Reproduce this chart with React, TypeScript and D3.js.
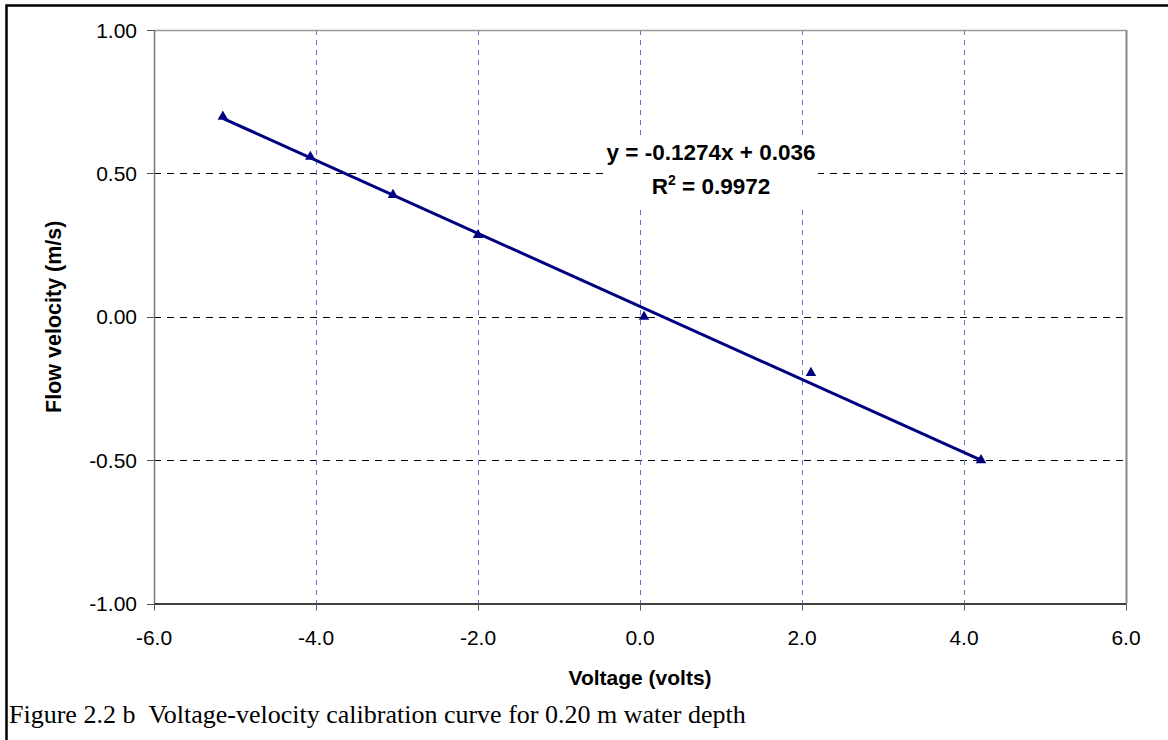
import React from "react";
import * as d3 from "d3";

const voltage = [-5.15, -4.07, -3.05, -2.0, 0.05, 2.11, 4.21];
const velocity = [0.698, 0.558, 0.425, 0.285, 0.0, -0.196, -0.5];
const xTicks = [-6, -4, -2, 0, 2, 4, 6];
const yTicks = [1, 0.5, 0, -0.5, -1];
const slope = -0.1274;
const intercept = 0.036;
const eqLine1 = "y = -0.1274x + 0.036";
const rSquared = "0.9972";
const xTitle = "Voltage (volts)";
const yTitle = "Flow velocity (m/s)";
const caption = "Figure 2.2 b \u00a0Voltage-velocity calibration curve for 0.20 m water depth";

const W = 1168;
const H = 740;
const left = 154;
const right = 1126;
const top = 30;
const bottom = 603.5;

const fmt2 = (t: number) => d3.format(".2f")(t).replace("\u2212", "-");
const fmt1 = (t: number) => d3.format(".1f")(t).replace("\u2212", "-");

export default function App() {
  const x = d3.scaleLinear().domain([-6, 6]).range([left, right]);
  const y = d3.scaleLinear().domain([-1, 1]).range([bottom, top]);
  const xMin = d3.min(voltage) as number;
  const xMax = d3.max(voltage) as number;
  const trend = d3
    .line<number>()
    .x((v) => x(v))
    .y((v) => y(slope * v + intercept))([xMin, xMax]);
  const tri = d3.symbol().type(d3.symbolTriangle).size(48)();
  const font = "Arial, 'Liberation Sans', sans-serif";

  return (
    <svg
      width={W}
      height={H}
      style={{ position: "absolute", left: 0, top: 0, background: "#fff" }}
    >
      <rect x={0} y={0} width={W} height={H} fill="#fff" />
      {/* outer frame */}
      <path d={`M6.5,${H + 5} L6.5,5.5 L${W + 5},5.5`} fill="none" stroke="#000" strokeWidth={2.5} />

      {/* horizontal gridlines */}
      {yTicks
        .filter((t) => t !== 1 && t !== -1)
        .map((t) => (
          <line
            key={"hg" + t}
            x1={left}
            x2={right}
            y1={Math.round(y(t)) + 0.5}
            y2={Math.round(y(t)) + 0.5}
            stroke="#000"
            strokeWidth={1}
            strokeDasharray="7,6"
          />
        ))}
      {/* vertical gridlines */}
      {xTicks
        .filter((t) => t !== -6 && t !== 6)
        .map((t) => (
          <line
            key={"vg" + t}
            x1={Math.round(x(t)) + 0.5}
            x2={Math.round(x(t)) + 0.5}
            y1={top}
            y2={bottom}
            stroke="#6e6ec8"
            strokeWidth={1}
            strokeDasharray="5,5"
          />
        ))}

      {/* plot border: top & right gray */}
      <line x1={left} x2={right} y1={top + 0.5} y2={top + 0.5} stroke="#999" strokeWidth={1.5} />
      <line x1={right + 0.5} x2={right + 0.5} y1={top} y2={bottom} stroke="#888" strokeWidth={2} />

      {/* equation label background */}
      <rect x={605} y={138} width={213} height={67} fill="#fff" />
      <text
        x={711}
        y={160}
        textAnchor="middle"
        fontFamily={font}
        fontWeight="bold"
        fontSize={22.5}
        fill="#000"
      >
        {eqLine1}
      </text>
      <text
        x={711}
        y={194}
        textAnchor="middle"
        fontFamily={font}
        fontWeight="bold"
        fontSize={22.5}
        fill="#000"
      >
        R<tspan dy={-9} fontSize={14}>2</tspan>
        <tspan dy={9}>{" = " + rSquared}</tspan>
      </text>

      {/* trend line */}
      <path d={trend || ""} fill="none" stroke="#000080" strokeWidth={3} />
      {/* markers */}
      {voltage.map((v, i) => (
        <path
          key={"m" + i}
          d={tri || ""}
          transform={`translate(${x(v)},${y(velocity[i])})`}
          fill="#000080"
        />
      ))}

      {/* y axis */}
      <line x1={left + 0.5} x2={left + 0.5} y1={top} y2={bottom} stroke="#777" strokeWidth={1.5} />
      {yTicks.map((t) => (
        <g key={"yt" + t}>
          <line
            x1={left - 7}
            x2={left}
            y1={Math.round(y(t)) + 0.5}
            y2={Math.round(y(t)) + 0.5}
            stroke="#555"
            strokeWidth={1}
          />
          <text
            x={left - 17}
            y={y(t)}
            dy="0.36em"
            textAnchor="end"
            fontFamily={font}
            fontSize={21}
            fill="#000"
          >
            {fmt2(t)}
          </text>
        </g>
      ))}
      {/* x axis */}
      <line x1={left} x2={right} y1={bottom + 0.5} y2={bottom + 0.5} stroke="#000" strokeWidth={1.5} />
      {xTicks.map((t) => (
        <g key={"xt" + t}>
          <line
            x1={Math.round(x(t)) + 0.5}
            x2={Math.round(x(t)) + 0.5}
            y1={bottom}
            y2={bottom + 7}
            stroke="#555"
            strokeWidth={1}
          />
          <text
            x={x(t)}
            y={645}
            textAnchor="middle"
            fontFamily={font}
            fontSize={21}
            fill="#000"
          >
            {fmt1(t)}
          </text>
        </g>
      ))}

      {/* axis titles */}
      <text
        x={(left + right) / 2}
        y={685}
        textAnchor="middle"
        fontFamily={font}
        fontWeight="bold"
        fontSize={21}
        fill="#000"
      >
        {xTitle}
      </text>
      <text
        transform={`translate(61,${(top + bottom) / 2}) rotate(-90)`}
        textAnchor="middle"
        fontFamily={font}
        fontWeight="bold"
        fontSize={21.5}
        fill="#000"
      >
        {yTitle}
      </text>

      {/* caption */}
      <text
        x={9}
        y={723}
        fontFamily="'Times New Roman', 'Liberation Serif', serif"
        fontSize={26}
        fill="#000"
      >
        {caption}
      </text>
    </svg>
  );
}
